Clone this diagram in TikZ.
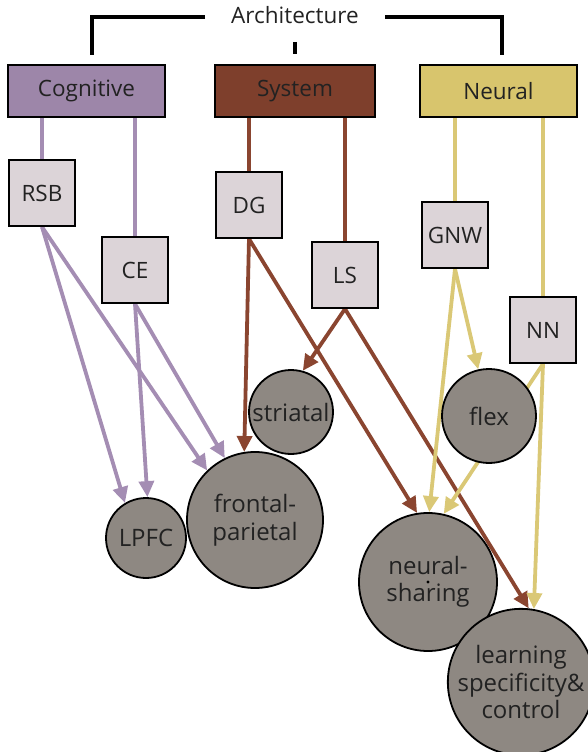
\documentclass[tikz,border=0pt]{standalone}
\usepackage{fontspec}
\setmainfont{Open Sans}
\usetikzlibrary{arrows.meta}
\definecolor{cogfill}{HTML}{9D86A9}
\definecolor{sysfill}{HTML}{7E3F2C}
\definecolor{neufill}{HTML}{D8C56D}
\definecolor{cogline}{HTML}{A48DB3}
\definecolor{sysline}{HTML}{8A4530}
\definecolor{neuline}{HTML}{DAC876}
\definecolor{leaffill}{HTML}{DCD4D8}
\definecolor{areafill}{HTML}{8E8882}
\definecolor{ink}{HTML}{222222}
\pgfdeclarelayer{edges}
\pgfsetlayers{edges,main}
\tikzset{
  labelfont/.style={font=\fontsize{22.5}{27}\selectfont, text=ink},
  areafont/.style={font=\fontsize{24}{27.5}\selectfont, text=ink},
  topbox/.style={draw=black, line width=1.8pt, minimum width=157pt, minimum height=52pt, inner sep=0pt, labelfont},
  leafbox/.style={draw=black, line width=1.8pt, fill=leaffill, minimum size=66pt, inner sep=0pt, labelfont},
  area/.style={circle, draw=black, line width=1.8pt, fill=areafill, inner sep=0pt, align=center, areafont},
  link/.style={line width=3.8pt},
  arrowlink/.style={line width=3.8pt, -{Triangle[length=16pt,width=15pt]}},
  bracket/.style={line width=4pt, black}
}
\begin{document}
\begin{tikzpicture}[x=1pt,y=-1pt]
\useasboundingbox (0,0) rectangle (587,752);

% heading and its bracket
\node[labelfont] (arch) at (295,15) {Architecture};
\coordinate (brL) at (205,17);
\coordinate (brLend) at (92,55);
\coordinate (brR) at (385,17);
\coordinate (brRend) at (502,55);
\coordinate (tickTop) at (295,42);
\coordinate (tickBot) at (295,54);
\draw[bracket] (brL) -| (brLend);
\draw[bracket] (brR) -| (brRend);
\draw[bracket] (tickTop) -- (tickBot);

% three levels of architecture
\node[topbox, fill=cogfill] (cog) at (86.5,91) {Cognitive};
\node[topbox, fill=sysfill, minimum width=160pt] (sys) at (295,91) {System};
\node[topbox, fill=neufill] (neu) at (498.5,91) {Neural};

% models
\node[leafbox] (rsb) at (42,193) {RSB};
\node[leafbox] (ce)  at (135,270) {CE};
\node[leafbox] (dg)  at (249,205) {DG};
\node[leafbox] (ls)  at (345,275) {LS};
\node[leafbox] (gnw) at (455,235) {GNW};
\node[leafbox] (nn)  at (543,330) {NN};

% brain areas
\node[area, minimum size=84pt] (str) at (291,412) {striatal};
\node[area, minimum size=136pt] (fp) at (255,520) {frontal-\\parietal};
\node[area, minimum size=80pt] (lpfc) at (146,538) {LPFC};
\node[area, minimum size=94pt] (flex) at (489,416) {flex};
\node[area, minimum size=138pt] (ns) at (428,582) {neural-\\sharing};
\node[area, minimum size=136pt] (lsc) at (521,682) {learning\\specificity\&\\control};
\fill[black] (ns.center) circle (1.6pt);

\begin{pgfonlayer}{edges}
  % levels to models
  \draw[link, cogline] (cog.south -| rsb.north) -- (rsb.north);
  \draw[link, cogline] (cog.south -| ce.north) -- (ce.north);
  \draw[link, sysline] (sys.south -| dg.north) -- (dg.north);
  \draw[link, sysline] (sys.south -| ls.north) -- (ls.north);
  \draw[link, neuline] (neu.south -| gnw.north) -- (gnw.north);
  \draw[link, neuline] (neu.south -| nn.north) -- (nn.north);
  % cognitive models
  \draw[arrowlink, cogline] (rsb.south) -- (lpfc.121);
  \draw[arrowlink, cogline] (rsb.south) -- (fp.134);
  \draw[arrowlink, cogline] (ce.south) -- (lpfc.88);
  \draw[arrowlink, cogline] (ce.south) -- (fp.116);
  % system models
  \draw[arrowlink, sysline] (dg.south) -- (fp.99);
  \draw[arrowlink, sysline] (dg.south) -- (ns.99);
  \draw[arrowlink, sysline] (ls.south) -- (str.74);
  \draw[arrowlink, sysline] (ls.south) -- (lsc.84);
  % neural models
  \draw[arrowlink, neuline] (gnw.south) -- (flex.103);
  \draw[arrowlink, neuline] (gnw.south) -- (ns.89);
  \draw[arrowlink, neuline] (nn.south) -- (ns.77);
  \draw[arrowlink, neuline] (nn.south) -- (lsc.80);
\end{pgfonlayer}
\end{tikzpicture}
\end{document}
